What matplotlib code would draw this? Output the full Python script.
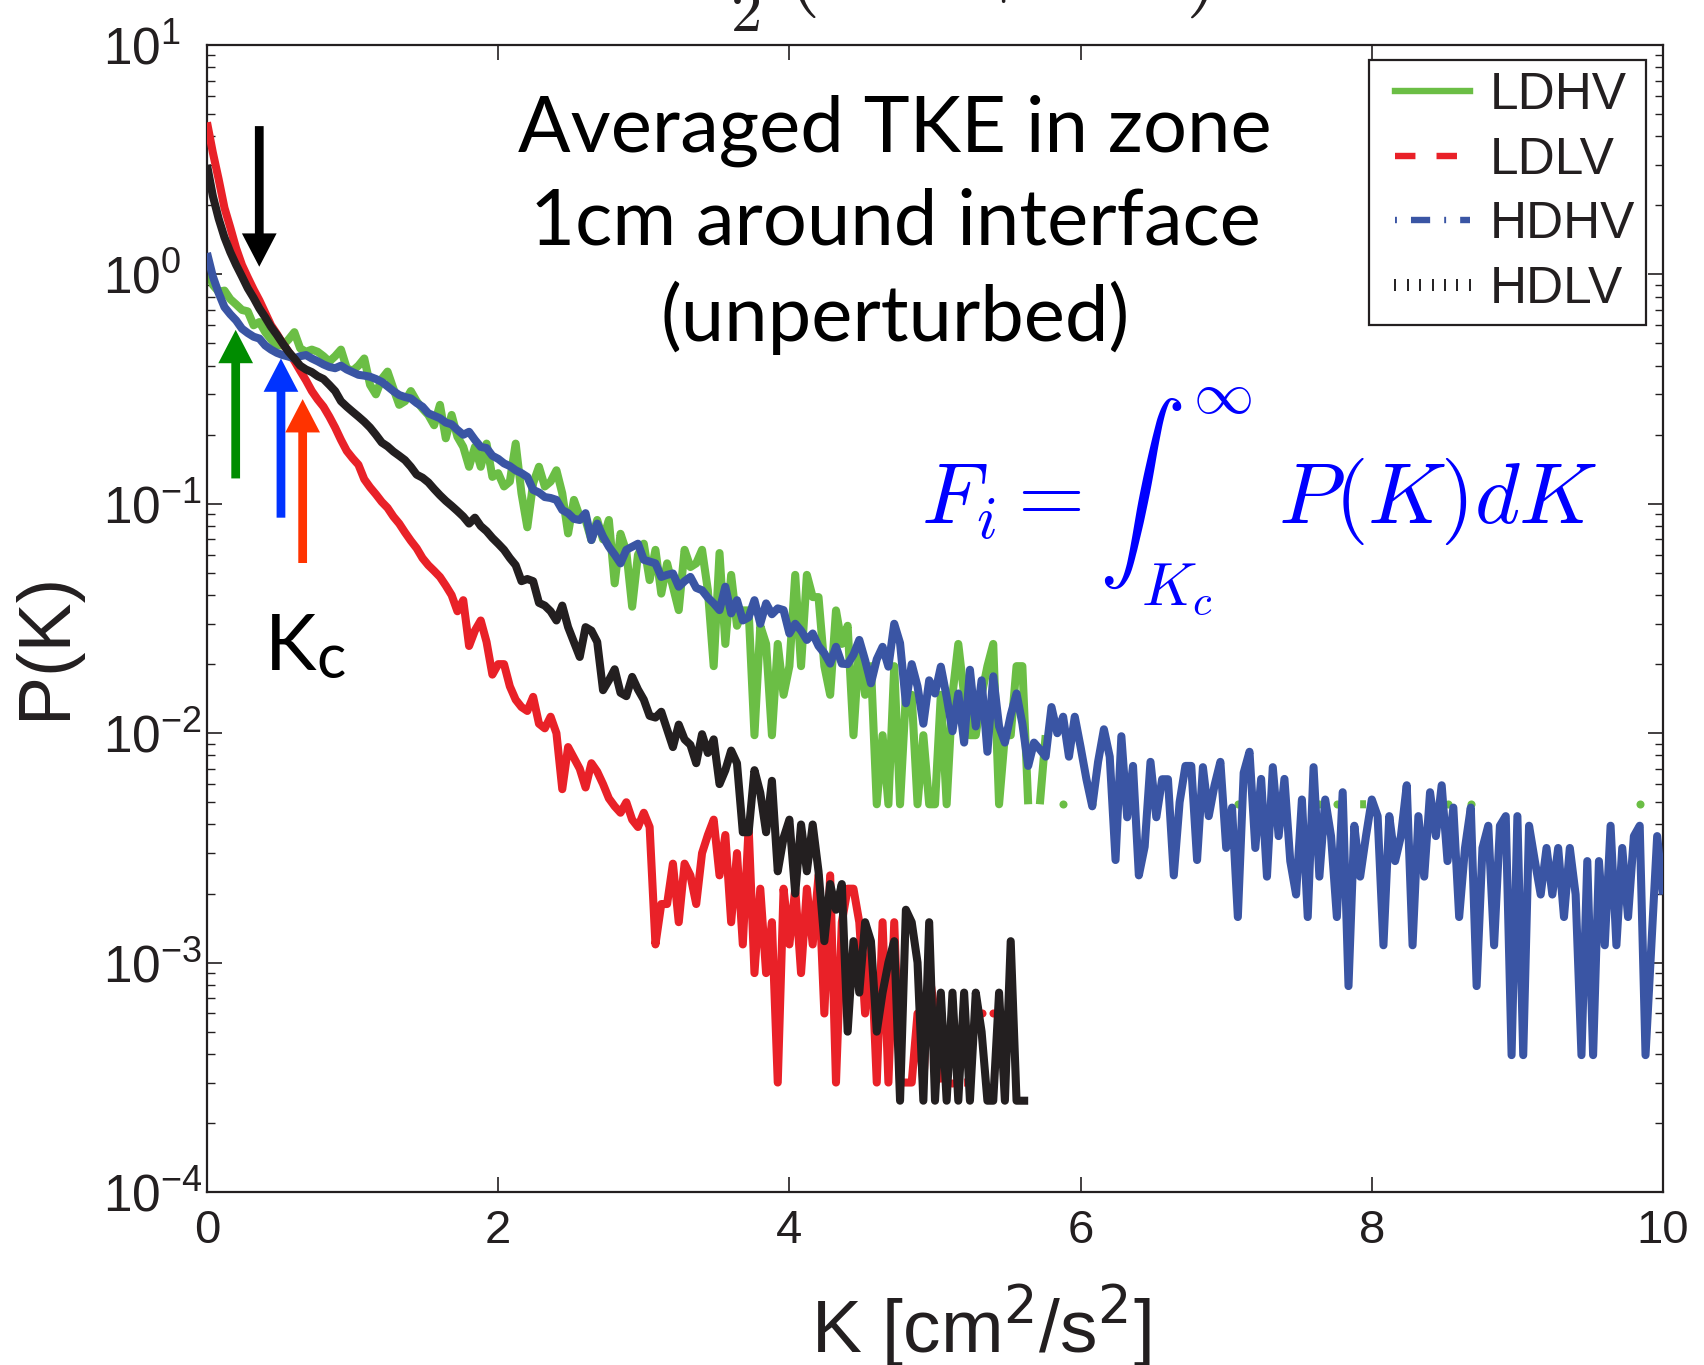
import numpy as np
import matplotlib
matplotlib.use("Agg")
import matplotlib.pyplot as plt
from matplotlib.lines import Line2D

nan = np.nan

# ---------------- data ----------------
K_STEP = 0.04  # histogram bin width in K [cm^2/s^2]; series start at K = 0

LDHV = [1.08, 0.90, 0.84, 0.85, 0.78, 0.74, 0.70, 0.69, 0.60, 0.62,
        0.56, 0.52, 0.49, 0.49, 0.52, 0.56, 0.476, 0.46, 0.47, 0.46,
        0.44, 0.417, 0.44, 0.47, 0.39, 0.38, 0.40, 0.43, 0.33, 0.30,
        0.35, 0.377, 0.318, 0.27, 0.28, 0.31, 0.28, 0.26, 0.244, 0.22,
        0.27, 0.193, 0.244, 0.196, 0.177, 0.145, 0.177, 0.145, 0.183, 0.131,
        0.136, 0.119, 0.125, 0.183, 0.111, 0.079, 0.123, 0.145, 0.119, 0.125,
        0.14, 0.111, 0.0743, 0.104, 0.088, 0.085, 0.0695, 0.085, 0.070, 0.085,
        0.045, 0.074, 0.062, 0.0356, 0.060, 0.067, 0.0465, 0.063, 0.0406, 0.055,
        0.0435, 0.0344, 0.063, 0.053, 0.055, 0.063, 0.042, 0.0196, 0.061, 0.0245,
        0.049, 0.0294, 0.0343, 0.0343, 0.0098, 0.0294, 0.0245, 0.0098, 0.0245, 0.0147,
        0.0196, 0.049, 0.0196, 0.049, 0.0392, 0.0392, 0.0196, 0.0147, 0.0343, 0.0245,
        0.0294, 0.0098, 0.0245, 0.0147, 0.0196, 0.0049, 0.0098, 0.0049, 0.0196, 0.0049,
        0.0147, 0.0147, 0.0049, 0.0098, 0.0049, 0.0049, 0.0147, 0.0049, 0.0147, 0.0245,
        0.0147, 0.0098, 0.0098, 0.0147, 0.0196, 0.0245, 0.0049, 0.0098, 0.0098, 0.0196,
        0.0196, 0.0049, nan, 0.0049, 0.0098, nan, nan, 0.0049, nan, nan,
        nan, nan, 0.0049]
LDHV_TAIL_K = [7.08, 7.64, 7.76, 7.92, 7.96, 8.40, 8.52, 8.68, 9.84]
LDHV_TAIL_P = [0.0049, 0.0049, 0.0049, 0.0049, 0.0049, 0.0049, 0.0049, 0.0049, 0.0049]

LDLV = [4.6, 3.4, 2.6, 1.95, 1.6, 1.3, 1.1, 0.97, 0.86, 0.77,
        0.68, 0.60, 0.55, 0.50, 0.46, 0.42, 0.38, 0.345, 0.31, 0.285,
        0.265, 0.24, 0.215, 0.19, 0.17, 0.158, 0.148, 0.128, 0.118, 0.11,
        0.102, 0.096, 0.088, 0.082, 0.075, 0.069, 0.064, 0.058, 0.054, 0.051,
        0.048, 0.044, 0.040, 0.034, 0.038, 0.024, 0.028, 0.031, 0.025, 0.018,
        0.020, 0.020, 0.016, 0.014, 0.013, 0.0125, 0.0144, 0.011, 0.0105, 0.0118,
        0.0100, 0.0057, 0.0087, 0.0078, 0.0070, 0.0058, 0.0074, 0.0068, 0.0060, 0.0052,
        0.0048, 0.0045, 0.0050, 0.0042, 0.0039, 0.0045, 0.0039, 0.0012, 0.0018, 0.0018,
        0.0027, 0.0015, 0.0027, 0.0024, 0.0018, 0.0030, 0.0036, 0.0042, 0.0024, 0.0036,
        0.0015, 0.0030, 0.0012, 0.0039, 0.0009, 0.0021, 0.0009, 0.0015, 0.0003, 0.0021,
        0.0012, 0.0021, 0.0009, 0.0021, 0.0012, 0.0024, 0.0006, 0.0024, 0.0003, 0.0015,
        0.0021, 0.0021, 0.0015, 0.0006, 0.0012, 0.0003, 0.0015, 0.0003, 0.0015, 0.0003,
        0.0003, 0.0003, 0.0006, 0.0003, 0.0009, 0.0006, 0.0003, nan, 0.0003, nan,
        0.0003, 0.0003, nan, 0.0006, nan, 0.0006]

HDHV = [1.24, 0.98, 0.83, 0.72, 0.67, 0.63, 0.58, 0.555, 0.535, 0.525,
        0.49, 0.47, 0.455, 0.445, 0.438, 0.43, 0.44, 0.445, 0.43, 0.418,
        0.405, 0.395, 0.39, 0.40, 0.385, 0.375, 0.365, 0.362, 0.358, 0.35,
        0.34, 0.325, 0.31, 0.298, 0.292, 0.288, 0.275, 0.265, 0.248, 0.242,
        0.236, 0.226, 0.222, 0.21, 0.20, 0.206, 0.19, 0.177, 0.175, 0.162,
        0.157, 0.15, 0.146, 0.14, 0.136, 0.131, 0.115, 0.112, 0.107, 0.106,
        0.104, 0.094, 0.091, 0.086, 0.085, 0.091, 0.0695, 0.082, 0.072, 0.065,
        0.060, 0.055, 0.063, 0.065, 0.067, 0.057, 0.056, 0.055, 0.048, 0.049,
        0.0497, 0.0435, 0.046, 0.048, 0.043, 0.042, 0.039, 0.0368, 0.0344, 0.0435,
        0.0333, 0.038, 0.031, 0.032, 0.038, 0.030, 0.0368, 0.033, 0.035, 0.0344,
        0.0272, 0.030, 0.028, 0.0255, 0.0272, 0.024, 0.0223, 0.0201, 0.0238, 0.0201,
        0.020, 0.022, 0.0255, 0.0208, 0.0165, 0.021, 0.0238, 0.0195, 0.030, 0.0247,
        0.0135, 0.020, 0.016, 0.011, 0.017, 0.0149, 0.0195, 0.0144, 0.0102, 0.0149,
        0.0091, 0.0189, 0.0107, 0.017, 0.0083, 0.0177, 0.0107, 0.0091, 0.012, 0.0149,
        0.011, 0.0072, 0.0091, 0.0085, 0.0079, 0.013, 0.010, 0.0118, 0.0079, 0.0118,
        0.0087, 0.0063, 0.0048, 0.0075, 0.0104, 0.0079, 0.0028, 0.0097, 0.0043, 0.0072,
        0.0024, 0.0032, 0.0075, 0.0043, 0.0063, 0.0063, 0.0024, 0.005, 0.0072, 0.0072,
        0.0028, 0.00711, 0.00435, 0.00593, 0.0075, 0.00316, 0.00474, 0.00158, 0.00672, 0.0083,
        0.00316, 0.00632, 0.00237, 0.00711, 0.00356, 0.00632, 0.00277, 0.00198, 0.00514, 0.00158,
        0.00711, 0.00237, 0.00514, 0.00356, 0.00158, 0.00553, 0.00079, 0.00395, 0.00237, 0.00356,
        0.00514, 0.00435, 0.00119, 0.00435, 0.00277, 0.00356, 0.00593, 0.00119, 0.00435, 0.00237,
        0.00553, 0.00356, 0.00593, 0.00277, 0.00474, 0.00158, 0.00316, 0.00474, 0.00079, 0.00316,
        0.00395, 0.00119, 0.00395, 0.00435, 0.000395, 0.00435, 0.000395, 0.00395, 0.00277, 0.00198,
        0.00316, 0.00198, 0.00316, 0.00158, 0.00316, 0.00198, 0.000395, 0.00277, 0.000395, 0.00277,
        0.00119, 0.00395, 0.00119, 0.00316, 0.00158, 0.00356, 0.00395, 0.000395, 0.00119, 0.00356,
        0.00198]

HDLV = [3.0, 2.2, 1.75, 1.45, 1.25, 1.1, 0.98, 0.87, 0.79, 0.71,
        0.65, 0.59, 0.545, 0.50, 0.46, 0.43, 0.40, 0.385, 0.375, 0.36,
        0.35, 0.33, 0.31, 0.28, 0.265, 0.252, 0.24, 0.228, 0.215, 0.20,
        0.185, 0.178, 0.169, 0.162, 0.155, 0.145, 0.134, 0.13, 0.124, 0.116,
        0.109, 0.103, 0.098, 0.093, 0.088, 0.082, 0.087, 0.080, 0.076, 0.071,
        0.067, 0.063, 0.058, 0.054, 0.046, 0.047, 0.046, 0.037, 0.036, 0.034,
        0.031, 0.036, 0.029, 0.025, 0.0215, 0.029, 0.028, 0.025, 0.0154, 0.017,
        0.019, 0.015, 0.0145, 0.0176, 0.0155, 0.014, 0.0119, 0.0117, 0.0124, 0.0104,
        0.0087, 0.0109, 0.0094, 0.0089, 0.0074, 0.0099, 0.0082, 0.0094, 0.0060, 0.0069,
        0.0084, 0.0074, 0.0037, 0.0037, 0.0069, 0.0055, 0.0037, 0.0062, 0.0025, 0.0035,
        0.0042, 0.0020, 0.0040, 0.0025, 0.0040, 0.0025, 0.00124, 0.0022, 0.0017, 0.0022,
        0.0005, 0.00124, 0.00074, 0.0015, 0.00124, 0.0005, 0.00074, 0.001, 0.00124, 0.00025,
        0.0017, 0.0015, 0.001, 0.00025, 0.0015, 0.00025, 0.00074, 0.00025, 0.00074, 0.00025,
        0.00074, 0.00025, 0.00074, 0.0005, 0.00025, 0.00025, 0.00074, 0.00025, 0.00124, 0.00025,
        0.00025, 0.00025]

SERIES_NAMES = ["LDHV", "LDLV", "HDHV", "HDLV"]
SERIES_COLORS = ["#6BBE45", "#E92128", "#3A55A4", "#231F20"]
LEGEND_STYLES = ["-", "--", "-.", ":"]

# K_c markers (arrows): K position, tip P, tail P
KC_ARROW_K = [0.197, 0.508, 0.657, 0.359]
KC_ARROW_TIP = [0.573, 0.43, 0.286, 1.08]
KC_ARROW_TAIL = [0.129, 0.087, 0.0552, 4.43]
KC_ARROW_COLORS = ["#008C00", "#0033FF", "#FF3300", "#000000"]

X_TICKS = [0, 2, 4, 6, 8, 10]
Y_TICKS = [1e-4, 1e-3, 1e-2, 1e-1, 1e0, 1e1]
Y_TICK_LABELS = [r"$\mathdefault{10^{-4}}$", r"$\mathdefault{10^{-3}}$", r"$\mathdefault{10^{-2}}$",
                 r"$\mathdefault{10^{-1}}$", r"$\mathdefault{10^{0}}$", r"$\mathdefault{10^{1}}$"]

# ---------------- figure ----------------
plt.rcParams["font.family"] = ["Liberation Sans", "DejaVu Sans"]
TXT = "#231F20"
W, H = 1704, 1365
fig = plt.figure(figsize=(W / 100, H / 100), dpi=100)
L, R, T, B = 207, 1663, 45, 1192
ax = fig.add_axes([L / W, 1 - B / H, (R - L) / W, (B - T) / H])
LW = 5.8


def fx(px):
    return px / W


def fy(py):
    return 1 - py / H


def draw(vals, color, z):
    v = np.asarray(vals, dtype=float)
    k = np.arange(len(v)) * K_STEP
    ax.plot(k, v, color=color, lw=LW, solid_joinstyle="round", solid_capstyle="butt", zorder=z)
    fin = np.isfinite(v)
    prev = np.r_[False, fin[:-1]]
    nxt = np.r_[fin[1:], False]
    iso = fin & ~prev & ~nxt
    ax.plot(k[iso], v[iso], ls="none", marker="o", ms=LW, mew=0, color=color, zorder=z)


# green with its sparse tail placed on the same bin grid
n_full = int(round(10 / K_STEP)) + 1
green = np.full(n_full, nan)
green[:len(LDHV)] = LDHV
green[np.rint(np.array(LDHV_TAIL_K) / K_STEP).astype(int)] = LDHV_TAIL_P

draw(green, SERIES_COLORS[0], 2)
draw(LDLV, SERIES_COLORS[1], 3)
draw(HDHV, SERIES_COLORS[2], 4)
draw(HDLV, SERIES_COLORS[3], 5)

for k, tip, tail, c in zip(KC_ARROW_K, KC_ARROW_TIP, KC_ARROW_TAIL, KC_ARROW_COLORS):
    ax.annotate("", xy=(k, tip), xytext=(k, tail),
                arrowprops=dict(width=6.3, headwidth=25, headlength=24, shrink=0,
                                facecolor=c, edgecolor="none", lw=0), zorder=7)

ax.set_yscale("log")
ax.set_xlim(0, 10)
ax.set_ylim(1e-4, 10)
ax.set_xticks(X_TICKS)
ax.set_xticklabels([str(t) for t in X_TICKS])
ax.xaxis.set_minor_locator(matplotlib.ticker.NullLocator())
ax.set_yticks(Y_TICKS)
ax.set_yticklabels(Y_TICK_LABELS, ha="left")
ax.tick_params(which="both", direction="in", top=True, right=True, colors=TXT)
ax.tick_params(which="major", length=11, width=1.2)
ax.tick_params(which="minor", length=5.5, width=1.0)
ax.tick_params(axis="x", labelsize=34, pad=12)
ax.tick_params(axis="y", labelsize=37, pad=75)
for s in ax.spines.values():
    s.set_linewidth(1.6)
    s.set_color(TXT)

# axis labels
fig.text(fx(46), fy(645), "P(K)", rotation=90, ha="center", va="center", fontsize=53, color=TXT)
fig.text(fx(981), fy(1353), "K [cm$^{2}$/s$^{2}$]", ha="center", va="baseline", fontsize=54,
         color=TXT, math_fontfamily="dejavusans")

# cut-off expression at the very top
fig.text(fx(730), fy(-4), r"$\frac{1}{2}\,(\,u'^{2}+w'^{2})$", ha="left", va="baseline",
         fontsize=64, color=TXT, math_fontfamily="cm")

# annotation text
fig.text(fx(895), fy(95), "Averaged TKE in zone\n1cm around interface\n(unperturbed)",
         ha="center", va="top", multialignment="center", fontsize=56, family="Lato",
         color="black", linespacing=1.36)
fig.text(fx(265), fy(670), "K", ha="left", va="baseline", fontsize=56, family="Lato", color="black")
fig.text(fx(316), fy(678), "c", ha="left", va="baseline", fontsize=44, family="Lato", color="black")

fig.text(fx(921), fy(524), r"$F_i = \int_{K_c}^{\infty}\ P(K)dK$", ha="left", va="baseline",
         fontsize=62, color=(0, 0, 1), math_fontfamily="cm")

# legend
handles = []
for name, c, ls in zip(SERIES_NAMES, SERIES_COLORS, LEGEND_STYLES):
    if ls == ":":
        handles.append(Line2D([], [], ls="none", marker="|", ms=8, mew=1.4, color=c))
    else:
        h = Line2D([], [], ls=ls, lw=4.6, color=c)
        if ls == "--":
            h.set_dashes([3.2, 3.3])
        elif ls == "-.":
            h.set_dashes([0.3, 2.2, 3.0, 2.2])
        handles.append(h)
leg = ax.legend(handles, SERIES_NAMES, loc="upper right", bbox_to_anchor=(fx(1646), fy(60)),
                bbox_transform=fig.transFigure, fontsize=37, frameon=True, fancybox=False,
                framealpha=1, edgecolor=TXT, handlelength=2.05, handletextpad=0.08,
                borderpad=0.22, labelspacing=0.3, numpoints=7, borderaxespad=0)
leg.get_frame().set_linewidth(1.6)
for t in leg.get_texts():
    t.set_color(TXT)
leg.set_zorder(10)

fig.savefig("out.png", dpi=100)
